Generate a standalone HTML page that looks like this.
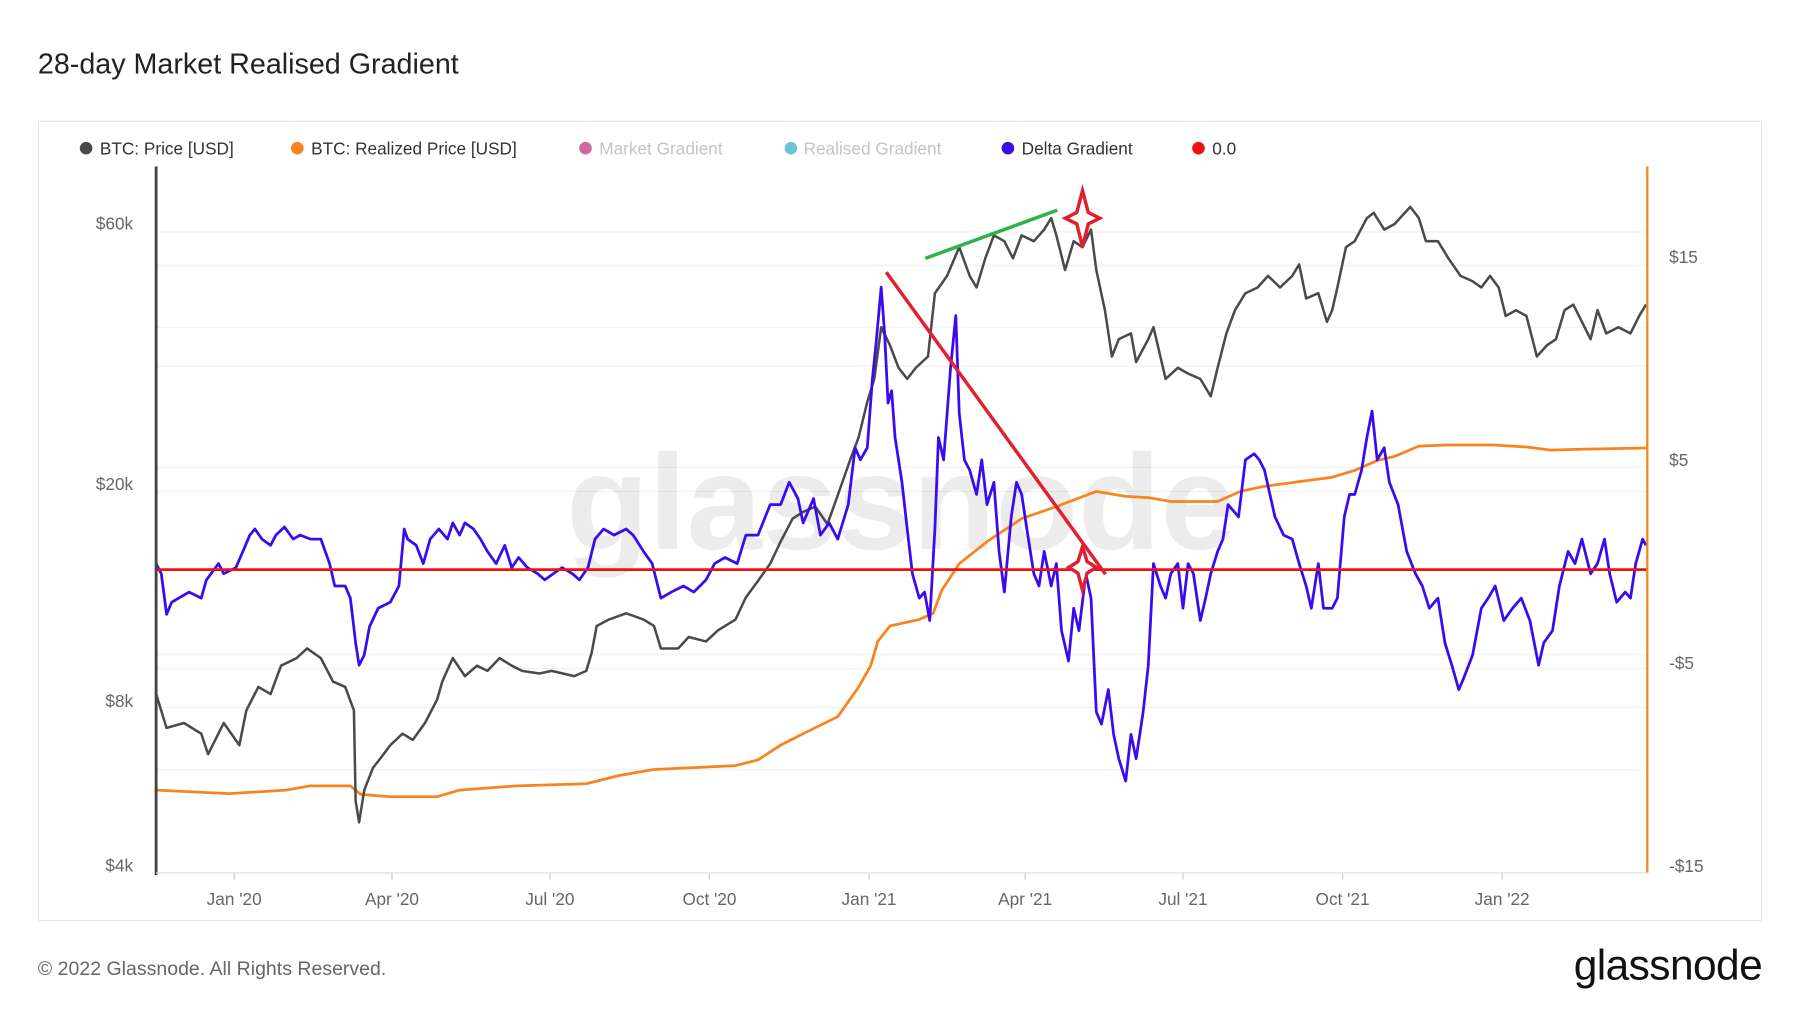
<!DOCTYPE html>
<html><head><meta charset="utf-8"><style>
html,body{margin:0;padding:0;background:#fff;}
svg{display:block;font-family:"Liberation Sans",sans-serif;}
</style></head><body>
<svg id="chart" width="1800" height="1013" viewBox="0 0 1568 882" preserveAspectRatio="none" xmlns="http://www.w3.org/2000/svg">
<rect x="0" y="0" width="1568" height="882" fill="#fff"/>
<text x="33" y="64" font-size="25" fill="#222">28-day Market Realised Gradient</text>
<rect x="33.5" y="105.5" width="1501" height="696" fill="none" stroke="#e4e4e4"/>
<g id="legend" font-size="15">
 <g><circle cx="75" cy="129" r="5.5" fill="#4a4a4a"/><text x="87" y="134.5" fill="#333">BTC: Price [USD]</text></g>
 <g><circle cx="259" cy="129" r="5.5" fill="#f7841e"/><text x="271" y="134.5" fill="#333">BTC: Realized Price [USD]</text></g>
 <g><circle cx="510" cy="129" r="5.5" fill="#d0689a"/><text x="522" y="134.5" fill="#c4c4c4">Market Gradient</text></g>
 <g><circle cx="689" cy="129" r="5.5" fill="#6cc4d4"/><text x="700" y="134.5" fill="#c4c4c4">Realised Gradient</text></g>
 <g><circle cx="878" cy="129" r="5.5" fill="#3a0af0"/><text x="890" y="134.5" fill="#333">Delta Gradient</text></g>
 <g><circle cx="1044" cy="129" r="5.5" fill="#ee1111"/><text x="1056" y="134.5" fill="#333">0.0</text></g>
</g>
<g id="grid"></g>
<text x="785" y="478" font-size="118" font-weight="bold" fill="#000" fill-opacity="0.075" text-anchor="middle">glassnode</text>
<g id="series"></g>
<g id="axes" font-size="15" fill="#666"></g>
<g id="annotations">
 <line x1="806" y1="225" x2="921" y2="183" stroke="#2fb14c" stroke-width="3"/>
 <line x1="772" y1="237" x2="963" y2="500" stroke="#e02030" stroke-width="3"/>
 <path d="M943 166 L948 185 L958 190 L948 195 L943 215 L938 195 L928 190 L938 185 Z" fill="#fff" stroke="#e02030" stroke-width="3"/>
 <path d="M943 476 L947 489 L955 494 L947 499 L943 514 L939 499 L931 494 L939 489 Z" fill="#fff" stroke="#e02030" stroke-width="3"/>
</g>
<text x="33" y="849" font-size="17" fill="#666">© 2022 Glassnode. All Rights Reserved.</text>
<text x="1535" y="853" font-size="37" fill="#111" text-anchor="end" letter-spacing="-0.5">glassnode</text>
</svg>
<script>
const priceDays=[0,6,16,26,30,39,48,52,59,66,72,81,87,95,102,109,114,115,117,120,125,130,135,142,148,155,162,165,171,178,185,191,198,205,211,221,228,241,248,251,254,261,271,281,287,291,301,307,317,324,334,340,347,354,360,367,373,380,387,393,400,405,410,414,418,423,428,433,438,445,449,456,463,469,473,478,483,489,494,499,506,512,516,519,524,529,534,539,542,547,551,555,562,565,572,575,582,589,595,602,608,612,617,622,628,635,641,648,655,659,663,670,675,678,681,686,691,698,702,708,714,723,728,732,739,745,752,759,764,769,774,778,784,790,796,802,807,812,817,822,827,831,836,843,850,855,859];
const priceUsd=[8250,7150,7300,6980,6400,7300,6650,7700,8500,8250,9300,9600,10000,9600,8700,8500,7700,5250,4800,5500,6040,6330,6650,6980,6800,7300,8060,8700,9600,8900,9300,9100,9600,9300,9100,9000,9100,8900,9100,9800,11000,11300,11600,11300,11000,10000,10000,10500,10300,10800,11300,12400,13300,14300,15700,17300,17800,18200,16900,19100,22100,24400,28300,31200,38800,36000,32700,31200,32700,34300,44800,48200,54400,48200,45900,51900,57200,55800,51900,57200,55800,58600,61500,57200,49400,55800,54400,58600,49400,41700,34300,36900,37800,33500,36900,38800,31200,32700,31900,31200,29000,32700,37800,41700,44800,45900,48200,45900,48200,50600,43800,44800,39700,41700,45900,54400,55800,61500,62900,58600,60000,64500,61500,55800,55800,51900,48200,47100,45900,48200,45900,40700,41700,40700,34300,36000,36900,41700,42700,39700,36900,41700,37800,38800,37800,40700,42700];
const realizedDays=[0,42,75,89,112,118,135,162,175,208,248,267,287,334,347,360,373,393,405,412,416,423,440,448,453,463,479,499,519,542,559,572,585,612,625,638,658,678,691,704,714,728,744,771,790,804,824,859];
const realizedUsd=[5500,5420,5500,5600,5600,5400,5350,5350,5500,5600,5650,5850,6000,6100,6250,6650,6980,7500,8500,9300,10300,11000,11300,11600,12800,14300,15700,17300,18200,19400,19000,18900,18600,18600,19400,19800,20200,20600,21200,22100,22500,23500,23600,23600,23400,23100,23200,23300];
const deltaDays=[0,3,6,9,13,19,26,29,36,39,46,50,54,57,61,66,69,74,79,83,89,95,100,103,109,112,115,117,120,123,128,135,140,143,145,150,154,158,163,168,171,175,178,183,187,191,196,201,205,209,214,220,224,229,234,240,244,249,253,258,264,271,275,281,286,291,297,304,310,317,322,328,335,340,347,354,360,365,370,373,379,383,388,393,399,403,406,410,413,415,418,420,422,424,426,430,433,436,440,443,446,449,451,454,458,461,463,466,469,473,476,479,483,486,489,493,496,499,502,506,509,512,516,519,522,526,529,532,536,539,542,545,549,552,555,559,562,565,569,572,575,579,582,585,589,592,595,598,602,605,608,612,615,618,624,628,633,636,639,645,650,655,659,663,666,670,673,678,681,685,688,691,695,698,701,704,708,711,716,721,726,730,734,739,743,747,751,754,759,764,768,772,777,782,787,792,797,800,805,809,814,818,822,827,831,835,838,842,847,850,853,857,859];
const deltaGradient=[0.3,-0.2,-2.2,-1.6,-1.4,-1.1,-1.4,-0.5,0.3,-0.2,0.1,0.9,1.7,2.0,1.5,1.2,1.7,2.1,1.5,1.7,1.5,1.5,0.3,-0.8,-0.8,-1.4,-3.6,-4.7,-4.2,-2.8,-1.9,-1.6,-0.8,2.0,1.5,1.2,0.3,1.5,2.0,1.5,2.3,1.7,2.3,2.0,1.5,0.9,0.3,1.2,0.1,0.6,0.1,-0.2,-0.5,-0.2,0.1,-0.2,-0.5,0.1,1.5,2.0,1.7,2.0,1.7,0.9,0.3,-1.4,-1.1,-0.8,-1.1,-0.5,0.3,0.6,0.3,1.7,1.7,3.2,3.2,4.3,3.5,2.3,3.5,1.7,2.3,1.5,3.2,6.0,5.4,6.0,9.4,11.1,13.9,11.6,8.2,8.8,6.5,4.3,2.0,-0.2,-1.4,-1.1,-2.5,2.0,6.5,5.4,9.9,12.5,7.7,5.4,4.9,3.7,5.4,3.2,4.3,0.9,-1.1,2.6,4.3,3.7,2.0,-0.2,-0.8,0.9,-0.8,0.3,-3.0,-4.5,-1.9,-3.0,-0.2,-1.4,-7.0,-7.6,-5.9,-8.1,-9.3,-10.4,-8.1,-9.3,-7.0,-4.7,0.3,-0.8,-1.4,-0.2,0.3,-1.9,0.3,-0.2,-2.5,-1.4,-0.2,0.9,1.5,3.2,2.6,5.4,5.7,5.4,4.9,2.6,1.7,1.5,0.3,-0.8,-1.9,0.3,-1.9,-1.9,-1.4,2.6,3.7,3.7,4.9,6.5,7.8,5.4,6.0,4.3,3.2,0.9,-0.2,-0.8,-1.9,-1.4,-3.6,-4.7,-5.9,-5.3,-4.2,-1.9,-1.4,-0.8,-2.5,-1.9,-1.4,-2.5,-4.7,-3.6,-3.0,-0.8,0.9,0.3,1.5,-0.2,0.3,1.5,-0.2,-1.6,-1.1,-1.4,0.3,1.5,1.2];
const xTickLabels=["Jan '20","Apr '20","Jul '20","Oct '20","Jan '21","Apr '21","Jul '21","Oct '21","Jan '22"];
const xTickDays=[45,136,227,319,411,501,592,684,776];
const leftTickLabels=["$60k","$20k","$8k","$4k"];
const leftTickValues=[60000,20000,8000,4000];
const rightTickLabels=["$15","$5","-$5","-$15"];
const rightTickValues=[15,5,-5,-15];

const NS="http://www.w3.org/2000/svg";
const X0=136,X1=1435,YT=145,YB=760;
function xScale(d){return X0+d*1.511;}
function yPrice(v){return 195+(Math.log10(60000)-Math.log10(v))*475;}
function yRight(v){return 489-17.67*v;}
function yDelta(v){return 496-17.7*v;}
function mk(tag,attrs,parent){const e=document.createElementNS(NS,tag);for(const k in attrs)e.setAttribute(k,attrs[k]);parent.appendChild(e);return e;}
const grid=document.getElementById('grid'),series=document.getElementById('series'),axes=document.getElementById('axes');
[202,231,285,319,407,428,570,582,616,670].forEach(y=>{
  const l=mk('line',{x1:X0,x2:X1,y1:y,y2:y,stroke:'#f0f0f0','stroke-width':1},grid);
  
  
});
function path(days,vals,yf,color,w,name){
  let d='';const n=Math.min(days.length,vals.length);
  for(let i=0;i<n;i++){d+=(i?'L':'M')+xScale(days[i]).toFixed(1)+' '+yf(vals[i]).toFixed(1);}
  const p=mk('path',{d:d,fill:'none',stroke:color,'stroke-width':w,'stroke-linejoin':'round'},series);
  
  
}
path(realizedDays,realizedUsd,yPrice,'#f7841e',2.4,'realized-price-line');
path(priceDays,priceUsd,yPrice,'#4a4a4a',2.2,'btc-price-line');
path(deltaDays,deltaGradient,yDelta,'#3a0af0',2.4,'delta-gradient-line');
const z=mk('line',{x1:X0,x2:X1,y1:yDelta(0),y2:yDelta(0),stroke:'#ee1111','stroke-width':2.4},series);


const la=mk('line',{x1:X0,x2:X0,y1:YT,y2:YB+2,stroke:'#444','stroke-width':2.5},axes);


const ra=mk('line',{x1:X1,x2:X1,y1:YT,y2:YB,stroke:'#f7841e','stroke-width':2},axes);


const ba=mk('line',{x1:X0,x2:X1,y1:YB,y2:YB,stroke:'#e0e0e0','stroke-width':1},axes);


leftTickLabels.forEach((t,i)=>{
  const e=mk('text',{x:116,y:yPrice(leftTickValues[i])+5,'text-anchor':'end'},axes);e.textContent=t;
  
  
});
rightTickLabels.forEach((t,i)=>{
  const e=mk('text',{x:1454,y:yRight(rightTickValues[i])+5},axes);e.textContent=t;
  
  
});
xTickLabels.forEach((t,i)=>{
  const x=xScale(xTickDays[i]);
  const tk=mk('line',{x1:x,x2:x,y1:YB,y2:YB+6,stroke:'#ccc'},axes);
  
  
  const e=mk('text',{x:x,y:788,'text-anchor':'middle'},axes);e.textContent=t;
  
  
});
</script>
</body></html>
